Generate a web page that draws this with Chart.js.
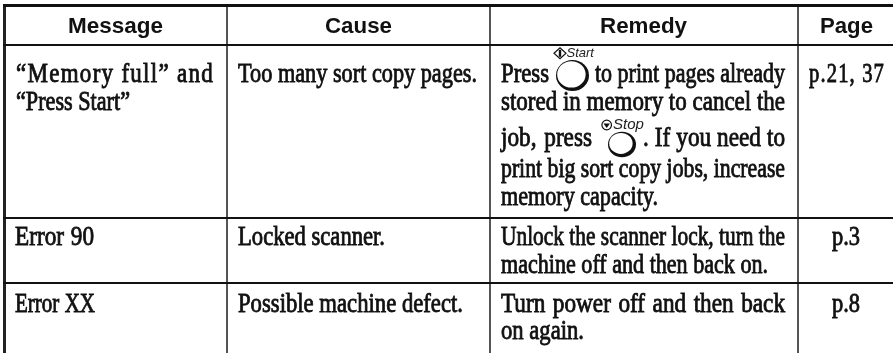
<!DOCTYPE html>
<html>
<head>
<meta charset="utf-8">
<style>
  html, body { margin: 0; padding: 0; background: #fff; }
  canvas { display: block; }
</style>
<script src="https://cdn.jsdelivr.net/npm/chart.js@4"></script>
</head>
<body>
<canvas id="tableChart" width="893" height="354"></canvas>
<script>
// table text
const headers = ["Message", "Cause", "Remedy", "Page"];
const messageLines = ["\u201CMemory full\u201D and", "\u201CPress Start\u201D", "Error 90", "Error XX"];
const causeLines = ["Too many sort copy pages.", "Locked scanner.", "Possible machine defect."];
const remedyLines = [
    "Press", "to print pages already", "stored in memory to cancel the",
    "job, press", ". If you need to", "print big sort copy jobs, increase", "memory capacity.",
    "Unlock the scanner lock, turn the", "machine off and then back on.",
    "Turn power off and then back", "on again."
];
const pageLines = ["p.21, 37", "p.3", "p.8"];
const buttonLabels = ["Start", "Stop"];
const spacedLines = [messageLines[0], pageLines[0]];

// table geometry, in page pixels: [left, baseline, right]
const headerPos = [[68, 33, 163], [325, 33, 392], [600, 33, 687], [820, 33, 873]];
const messagePos = [[16, 82, 214], [16, 110, 130], [15, 245, 94], [15, 312, 95]];
const causePos = [[238, 82, 477], [238, 245, 385], [238, 312, 463]];
const remedyPos = [
    [501, 82, 549], [595, 82, 785], [501, 110, 785],
    [501, 146, 592], [643, 146, 785], [501, 177, 785], [501, 205, 658],
    [501, 245, 785], [501, 273, 768],
    [501, 312, 785], [501, 339, 584]
];
const pagePos = [[809, 82, 885], [832, 245, 860], [832, 312, 860]];
const columnEdges = [4.5, 226.5, 490, 798];
const rowEdges = [5, 44.5, 218, 283];

function cellPoints(texts, pos) {
    return texts.map((text, i) => ({ x: pos[i][0], y: pos[i][1], end: pos[i][2], text }));
}

const dark = "#111";

const cellText = {
    id: "cellText",
    afterDatasetsDraw(chart) {
        const ctx = chart.ctx;
        const xs = chart.scales.x;
        ctx.save();
        ctx.textBaseline = "alphabetic";
        ctx.fillStyle = dark;
        ctx.strokeStyle = dark;
        chart.data.datasets.forEach((ds, d) => {
            const meta = chart.getDatasetMeta(d);
            const isHeader = d === 0;
            ctx.font = isHeader ? "bold 22px 'Liberation Sans'" : "27px 'Liberation Serif'";
            ds.data.forEach((pt, i) => {
                const el = meta.data[i];
                const target = xs.getPixelForValue(pt.end) - el.x;
                ctx.wordSpacing = "0px";
                ctx.letterSpacing = spacedLines.includes(pt.text) ? "1.5px" : "0px";
                const natural = ctx.measureText(pt.text).width;
                const spaces = pt.text.split(" ").length - 1;
                // squeeze the glyphs on tight lines, open up the word gaps on loose ones
                const sx = isHeader ? target / natural : Math.min(0.86, target / natural);
                if (!isHeader && spaces && target / natural > sx) {
                    ctx.wordSpacing = ((target / sx - natural) / spaces).toFixed(2) + "px";
                }
                ctx.save();
                ctx.translate(el.x, el.y);
                ctx.scale(sx, 1);
                ctx.fillText(pt.text, 0, 0);
                if (!isHeader) {
                    ctx.lineWidth = 0.85;
                    ctx.strokeText(pt.text, 0, 0);
                }
                ctx.restore();
            });
        });
        ctx.wordSpacing = "0px";
        ctx.letterSpacing = "0px";
        drawButton(ctx, 572.5, 75.5, 16.5, 15.5);
        drawButton(ctx, 622, 144.5, 14, 12.8);
        drawStartMark(ctx, 560, 53.3);
        drawStopMark(ctx, 606.7, 125);
        ctx.fillStyle = "#222";
        ctx.font = "italic 13px 'Liberation Sans'";
        ctx.fillText(buttonLabels[0], 566.5, 56.7);
        ctx.font = "italic 15px 'Liberation Sans'";
        ctx.fillText(buttonLabels[1], 613, 129);
        ctx.restore();
    }
};

// round button: thin ring, heavier towards the lower right
function drawButton(ctx, cx, cy, rx, ry) {
    ctx.fillStyle = dark;
    ctx.beginPath();
    ctx.ellipse(cx, cy, rx, ry, 0, 0, Math.PI * 2);
    ctx.fill();
    ctx.fillStyle = "#fff";
    ctx.beginPath();
    ctx.ellipse(cx - 1.1, cy - 1.1, rx - 2.3, ry - 2.3, 0, 0, Math.PI * 2);
    ctx.fill();
}

function drawStartMark(ctx, x, y) {
    ctx.strokeStyle = dark;
    ctx.lineWidth = 1.2;
    ctx.beginPath();
    ctx.moveTo(x - 6, y);
    ctx.lineTo(x, y - 5.5);
    ctx.lineTo(x + 6, y);
    ctx.lineTo(x, y + 5.5);
    ctx.closePath();
    ctx.stroke();
    ctx.fillStyle = dark;
    ctx.fillRect(x - 1.2, y - 3.5, 2.4, 7);
}

function drawStopMark(ctx, x, y) {
    ctx.strokeStyle = dark;
    ctx.lineWidth = 1.2;
    ctx.beginPath();
    ctx.arc(x, y, 4.8, 0, Math.PI * 2);
    ctx.stroke();
    ctx.fillStyle = dark;
    ctx.beginPath();
    ctx.moveTo(x - 3.2, y - 1.5);
    ctx.lineTo(x + 3.2, y - 1.5);
    ctx.lineTo(x, y + 3);
    ctx.closePath();
    ctx.fill();
}

new Chart(document.getElementById("tableChart"), {
    type: "scatter",
    data: {
        datasets: [
            { label: "Header", data: cellPoints(headers, headerPos) },
            { label: "Message", data: cellPoints(messageLines, messagePos) },
            { label: "Cause", data: cellPoints(causeLines, causePos) },
            { label: "Remedy", data: cellPoints(remedyLines, remedyPos) },
            { label: "Page", data: cellPoints(pageLines, pagePos) }
        ]
    },
    plugins: [cellText],
    options: {
        responsive: false,
        animation: false,
        events: [],
        elements: { point: { radius: 0 } },
        layout: { padding: { left: 3, top: 4, right: 0, bottom: 1 } },
        plugins: { legend: { display: false }, tooltip: { enabled: false }, title: { display: false } },
        scales: {
            x: {
                type: "linear", min: 3, max: 893,
                afterBuildTicks: (axis) => { axis.ticks = columnEdges.map((value) => ({ value })); },
                ticks: { display: false },
                border: { display: false },
                grid: {
                    drawTicks: false,
                    color: (c) => (c.index === 0 ? "#222" : "#555"),
                    lineWidth: (c) => (c.index === 0 ? 3 : 2)
                }
            },
            y: {
                type: "linear", min: 4, max: 353, reverse: true,
                afterBuildTicks: (axis) => { axis.ticks = rowEdges.map((value) => ({ value })); },
                ticks: { display: false },
                border: { display: false },
                grid: {
                    drawTicks: false,
                    color: dark,
                    lineWidth: (c) => (c.index === 0 ? 3 : 2)
                }
            }
        }
    }
});
</script>
</body>
</html>
